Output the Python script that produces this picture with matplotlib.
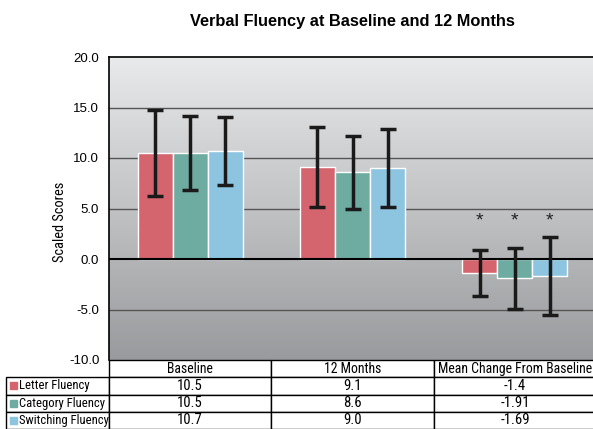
import numpy as np
import matplotlib.pyplot as plt
from matplotlib import font_manager
from matplotlib.patches import Rectangle

# Data
groups = ['Baseline', '12 Months', 'Mean Change From Baseline']
series = ['Letter Fluency', 'Category Fluency', 'Switching Fluency']
letter = [10.5, 9.1, -1.4]
category = [10.5, 8.6, -1.91]
switching = [10.7, 9.0, -1.69]
letter_err = [4.3, 3.95, 2.3]
category_err = [3.7, 3.6, 3.0]
switching_err = [3.35, 3.85, 3.9]
table_text = [['10.5', '9.1', '-1.4'],
              ['10.5', '8.6', '-1.91'],
              ['10.7', '9.0', '-1.69']]
significant = [False, False, True]

colors = ['#d4646e', '#6eaba0', '#8dc5e0']
values = [letter, category, switching]
errors = [letter_err, category_err, switching_err]


def has_font(name):
    try:
        font_manager.findfont(name, fallback_to_default=False)
        return True
    except Exception:
        return False


plt.rcParams['font.family'] = ['Liberation Sans', 'DejaVu Sans']
# condensed face if one is around, otherwise plain Liberation Sans, smaller
if has_font('Liberation Sans Narrow'):
    narrow, scale = ['Liberation Sans Narrow', 'DejaVu Sans'], 1.2
elif has_font('Roboto Condensed'):
    narrow, scale = ['Roboto Condensed', 'DejaVu Sans'], 1.15
else:
    narrow, scale = ['Liberation Sans', 'DejaVu Sans'], 1.0

W, H = 593, 429
fig = plt.figure(figsize=(W / 100, H / 100), dpi=100)
# axes from x=109 to 596 px, y=57 to 360 px
ax = fig.add_axes([109 / W, 1 - 360 / H, 487 / W, 303 / H])

ax.set_xlim(0, 3)
ax.set_ylim(-10, 20)

# gradient background
grad = np.linspace(0, 1, 256).reshape(-1, 1)
top = np.array([0.912, 0.916, 0.922])
bot = np.array([0.6, 0.605, 0.615])
img = top + (bot - top) * grad[:, :, None]
ax.imshow(img, extent=[0, 3, -10, 20], aspect='auto', zorder=0)

for yv in [15, 10, 5, -5]:
    ax.axhline(yv, color='#555555', lw=1.0, zorder=1)
ax.axhline(0, color='black', lw=1.5, zorder=3)

x = np.arange(3) + 0.5
bw = 35 / 162
for i in range(3):
    xi = x + (i - 1) * bw
    ax.bar(xi, values[i], width=bw, color=colors[i], edgecolor='white',
           linewidth=1.0, zorder=2)
    ax.errorbar(xi, values[i], yerr=errors[i], fmt='none', ecolor='#1a1a1a',
                elinewidth=2.5, capsize=6, capthick=2.5, zorder=4)
    for j in range(3):
        if significant[j]:
            ax.text(xi[j], 3.8, '*', ha='center', va='center', fontsize=14,
                    color='#222222', zorder=5)

ax.set_xticks([])
ax.set_yticks([-10, -5, 0, 5, 10, 15, 20])
ax.set_yticklabels(['%.1f' % v for v in [-10, -5, 0, 5, 10, 15, 20]],
                   fontsize=9.5)
ax.tick_params(axis='y', length=0, pad=7)
ax.set_ylabel('Scaled Scores', fontsize=9 * scale, family=narrow)
ax.yaxis.set_label_coords(-0.086, 0.455)
ax.set_title('Verbal Fluency at Baseline and 12 Months', fontsize=11.8,
             fontweight='bold', pad=22.5)
for s in ['left', 'top']:
    ax.spines[s].set_linewidth(1.2)
ax.spines['right'].set_visible(False)
ax.spines['bottom'].set_visible(False)

# table below the axes
cell_text = [[''] + groups] + [[series[i]] + table_text[i] for i in range(3)]
widths = np.array([103, 162, 163, 162]) / 487
tb = ax.table(cellText=cell_text, colWidths=widths, cellLoc='center',
              bbox=[-103 / 487, -69 / 303, 590 / 487, 69 / 303])
tb.auto_set_font_size(False)
for (r, c), cell in tb.get_celld().items():
    cell.set_linewidth(1.0)
    txt = cell.get_text()
    txt.set_family(narrow)
    txt.set_fontsize((8.6 if r == 0 else 9.2) * scale)
    if r == 0 and c == 0:
        cell.visible_edges = ''
    if c == 0 and r > 0:
        cell._loc = 'left'
        cell.PAD = 0.13
        txt.set_horizontalalignment('left')
        txt.set_fontsize(7.9 * scale)

# legend squares in the row labels
for i in range(3):
    yc = -69 / 303 * (i + 1.5) / 4
    ax.add_patch(Rectangle((-99 / 487, yc - 3.5 / 303), 7 / 487, 7 / 303,
                           transform=ax.transAxes, color=colors[i],
                           clip_on=False, zorder=10))

fig.savefig('out.png', dpi=100)
